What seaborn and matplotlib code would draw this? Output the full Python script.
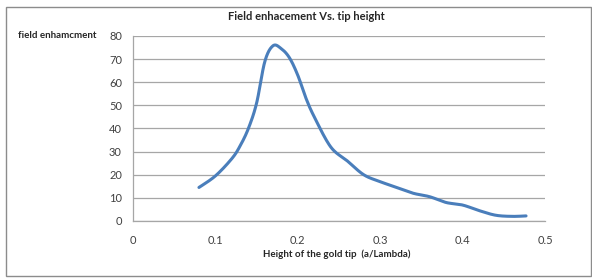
import numpy as np
import pandas as pd
import seaborn as sns
from matplotlib import pyplot as plt
from matplotlib.patches import Rectangle

# values
tip_height = [0.08, 0.10, 0.12, 0.13, 0.14, 0.15, 0.16, 0.17, 0.18, 0.19, 0.20, 0.21, 0.22,
              0.24, 0.26, 0.28, 0.30, 0.32, 0.34, 0.36, 0.38, 0.40, 0.42, 0.44, 0.46, 0.477]
enhancement = [14.5, 19.5, 27.0, 32.5, 40.0, 51.0, 69.0, 75.8, 74.5, 70.5, 63.0, 53.0, 45.0,
               32.0, 26.0, 20.0, 17.0, 14.5, 12.0, 10.5, 8.0, 6.9, 4.5, 2.5, 2.0, 2.2]
x_ticks = [0, 0.1, 0.2, 0.3, 0.4, 0.5]
y_ticks = [0, 10, 20, 30, 40, 50, 60, 70, 80]


def smooth(xs, ys, n=20):
    # catmull-rom, roughly what excel's "smoothed line" does
    p = np.column_stack([xs, ys])
    p = np.vstack([p[0], p, p[-1]])
    out = []
    for i in range(1, len(p) - 2):
        p0, p1, p2, p3 = p[i - 1], p[i], p[i + 1], p[i + 2]
        t = np.linspace(0, 1, n, endpoint=False)[:, None]
        c1 = p1 + (p2 - p0) / 6
        c2 = p2 - (p3 - p1) / 6
        out.append((1 - t) ** 3 * p1 + 3 * (1 - t) ** 2 * t * c1 + 3 * (1 - t) * t ** 2 * c2 + t ** 3 * p2)
    out.append(p[-2][None, :])
    out = np.vstack(out)
    return out[:, 0], out[:, 1]


sx, sy = smooth(tip_height, enhancement)
df = pd.DataFrame({"x": sx, "y": sy})

sns.set_style("white")
plt.rcParams['font.family'] = ['Lato', 'DejaVu Sans']

fig = plt.figure(figsize=(5.92, 2.79), dpi=100)
ax = fig.add_axes([0.2247, 0.2079, 0.6959, 0.6631])

sns.lineplot(data=df, x="x", y="y", sort=False, color="#4A7EBB", linewidth=2.2, ax=ax)

ax.set_xlim(0, 0.5)
ax.set_ylim(0, 80)
ax.set_xticks(x_ticks)
ax.set_xticklabels([f"{t:g}" for t in x_ticks])
ax.set_yticks(y_ticks)
ax.grid(axis="y", color="#A6A6A6", linewidth=0.9)
ax.set_axisbelow(True)
for s in ["top", "right"]:
    ax.spines[s].set_visible(False)
for s in ["left", "bottom"]:
    ax.spines[s].set_color("#A6A6A6")
    ax.spines[s].set_linewidth(0.9)
ax.tick_params(axis="both", direction="out", length=4, width=0.9, color="#A6A6A6",
               labelsize=8, labelcolor="#404040", pad=4)
ax.tick_params(axis="x", pad=6)
ax.set_xlabel("")
ax.set_ylabel("")

fig.text(0.518, 0.94, "Field enhacement Vs. tip height", ha="center", va="center",
         fontsize=8, fontweight="bold")
fig.text(0.03, 0.871, "field enhamcment", ha="left", va="center",
         fontsize=7, fontweight="bold")
fig.text(0.569, 0.09, "Height of the gold tip  (a/Lambda)", ha="center", va="center",
         fontsize=7, fontweight="bold")

fig.patches.append(Rectangle((0.010, 0.010), 0.988, 0.965, transform=fig.transFigure,
                             fill=False, edgecolor="#8C8C8C", linewidth=1.0))

fig.savefig("out.png", dpi=100)
